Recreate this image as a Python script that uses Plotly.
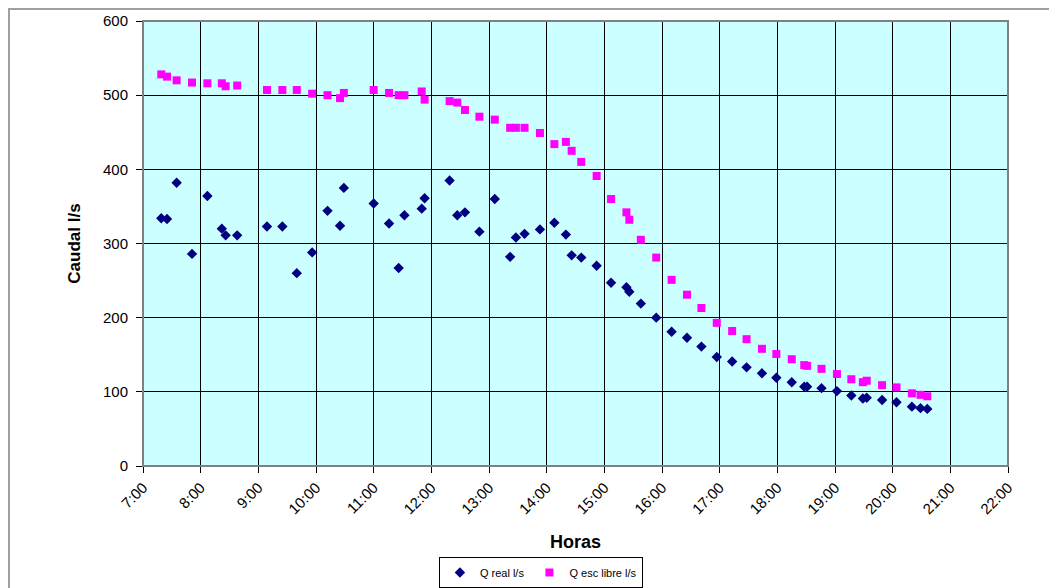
import pandas as pd
import plotly.graph_objects as go

# sample times (hh:mm) and measured flows
horas = ["7:19", "7:25", "7:35", "7:51", "8:07", "8:22", "8:26", "8:38",
         "9:09", "9:25", "9:40", "9:56", "10:12", "10:25", "10:29",
         "11:00", "11:16", "11:26", "11:32", "11:50", "11:53",
         "12:19", "12:27", "12:35", "12:50",
         "13:06", "13:22", "13:28", "13:37", "13:53",
         "14:08", "14:20", "14:26", "14:36", "14:52",
         "15:07", "15:23", "15:26", "15:38", "15:54",
         "16:10", "16:26", "16:41", "16:57",
         "17:13", "17:28", "17:44", "17:59",
         "18:15", "18:28", "18:31", "18:46",
         "19:02", "19:17", "19:29", "19:33", "19:49",
         "20:04", "20:20", "20:29", "20:36"]

q_real = [334, 333, 382, 286, 364, 320, 311, 311,
          323, 323, 260, 288, 344, 324, 375,
          354, 327, 267, 338, 347, 361,
          385, 338, 342, 316,
          360, 282, 308, 313, 319,
          328, 312, 284, 281, 270,
          247, 241, 235, 219, 200,
          181, 173, 161, 147,
          141, 133, 125, 119,
          113, 107, 107, 105,
          101, 95, 91, 92, 89,
          86, 80, 78, 77]

q_esc_libre = [528, 525, 520, 517, 516, 516, 512, 513,
               507, 507, 507, 502, 500, 496, 503,
               507, 503, 500, 500, 505, 494,
               492, 490, 480, 471,
               467, 456, 456, 456, 449,
               434, 437, 425, 410, 391,
               360, 342, 332, 305, 281,
               251, 231, 213, 193,
               182, 171, 158, 151,
               144, 136, 135, 131,
               124, 117, 113, 115, 109,
               106, 98, 96, 94]

t = pd.to_datetime(["2000-01-01 " + h for h in horas])

fig = go.Figure()
fig.add_trace(go.Scatter(x=t, y=q_real, mode="markers", name="Q real l/s",
                         marker=dict(symbol="diamond", size=8, color="#000080")))
fig.add_trace(go.Scatter(x=t, y=q_esc_libre, mode="markers", name="Q esc libre l/s",
                         marker=dict(symbol="square", size=8, color="#FF00FF")))

axis_font = dict(family="Liberation Sans, Arial", size=15, color="black")

# the page body adds an 8px offset, so the figure is 8px smaller than the window
fig.update_layout(
    width=1049, height=580,
    margin=dict(l=135, r=49, t=13, b=122),
    paper_bgcolor="white",
    plot_bgcolor="#CCFFFF",
    font=axis_font,
    showlegend=True,
    legend=dict(orientation="h", x=0.46, xanchor="center",
                yref="container", y=0, yanchor="bottom",
                bordercolor="black", borderwidth=1, bgcolor="white",
                font=dict(family="Liberation Sans, Arial", size=11, color="black"),
                itemwidth=30, tracegroupgap=0),
    xaxis=dict(
        type="date", automargin=False,
        range=["2000-01-01 07:00", "2000-01-01 22:00"],
        dtick=3600000, tickformat="%-H:%M", tickangle=-45,
        showgrid=True, gridcolor="black", gridwidth=1,
        showline=True, linecolor="black", linewidth=1,
        ticks="outside", ticklen=6, tickcolor="black",
        tickfont=axis_font,
        title=dict(text="<b>Horas</b>", standoff=18,
                   font=dict(family="Liberation Sans, Arial", size=18, color="black")),
    ),
    yaxis=dict(
        range=[0, 600], dtick=100, automargin=False,
        showgrid=True, gridcolor="black", gridwidth=1,
        showline=True, linecolor="black", linewidth=1,
        ticks="outside", ticklen=6, tickcolor="black",
        tickfont=axis_font, zeroline=False, ticklabelstandoff=5,
        title=dict(text="<b>Caudal l/s</b>", standoff=18,
                   font=dict(family="Liberation Sans, Arial", size=17, color="black")),
    ),
)

# grey frame around plot area and outer chart border
fig.add_shape(type="rect", xref="paper", yref="paper", x0=0, y0=0, x1=1, y1=1,
              line=dict(color="#808080", width=2), layer="above")
fig.add_shape(type="rect", xref="paper", yref="paper", x0=-0.1549, y0=-0.3, x1=1.07, y1=1.027,
              line=dict(color="#A0A0A0", width=2), layer="below")
fig.update_xaxes(layer="above traces")
fig.update_yaxes(layer="above traces")

fig.write_html("out.html")
